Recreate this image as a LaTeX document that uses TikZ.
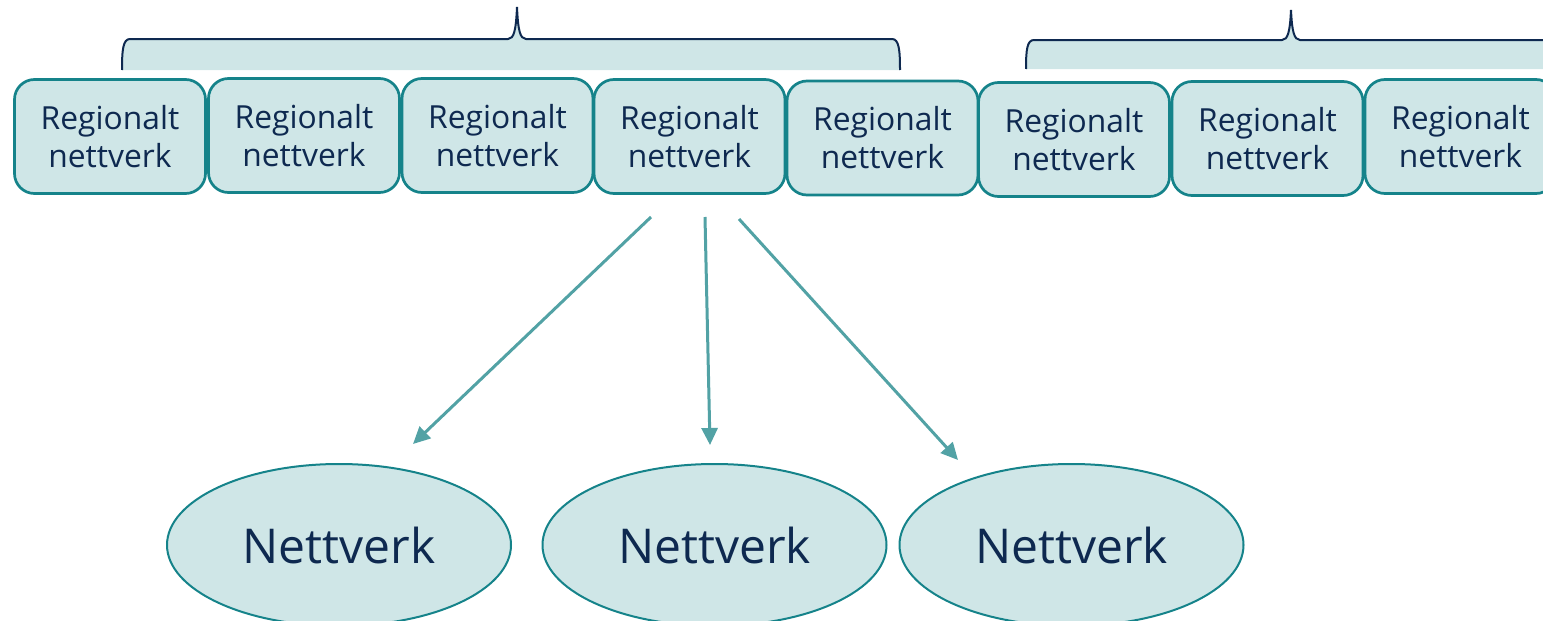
\documentclass[tikz,border=0pt]{standalone}
\usepackage{fontspec}
\setmainfont{Open Sans}
\usetikzlibrary{shapes.geometric,arrows.meta}
\definecolor{fillc}{HTML}{CFE6E7}
\definecolor{edgec}{HTML}{15838A}
\definecolor{txtc}{HTML}{0E2950}
\definecolor{arrc}{HTML}{52A2A5}
\definecolor{bracec}{HTML}{0E2950}
\begin{document}
\begin{tikzpicture}[x=1pt,y=-1pt,
  regbox/.style={draw=edgec, fill=fillc, line width=2.7pt, rounded corners=20pt,
    minimum width=191pt, minimum height=114pt, inner sep=0pt, text=txtc,
    font=\fontsize{31.8}{38}\selectfont, align=center},
  netnode/.style={ellipse, draw=edgec, fill=fillc, line width=2pt,
    minimum width=344pt, minimum height=162pt, inner sep=0pt, text=txtc,
    font=\fontsize{48}{58}\selectfont},
  arr/.style={draw=arrc, line width=3pt, -{Triangle[length=17pt,width=16pt]}},
  bracefill/.style={fill=fillc},
  braceline/.style={draw=bracec, line width=2pt}]
\useasboundingbox (0,0) rectangle (1543,621);
\clip (0,0) rectangle (1543,621);

% braces
\path[bracefill] (122,70) .. controls (122,50) and (123,39) .. (130,39) -- (508,39)
  .. controls (514,39) and (516,30) .. (517,7) .. controls (518,30) and (520,39) .. (526,39)
  -- (892,39) .. controls (899,39) and (900,50) .. (900,70) -- cycle;
\path[braceline] (122,70) .. controls (122,50) and (123,39) .. (130,39) -- (508,39)
  .. controls (514,39) and (516,30) .. (517,7) .. controls (518,30) and (520,39) .. (526,39)
  -- (892,39) .. controls (899,39) and (900,50) .. (900,70);

\path[bracefill] (1026,69) .. controls (1026,50) and (1027,40) .. (1034,40) -- (1282,40)
  .. controls (1288,40) and (1290,31) .. (1291,10) .. controls (1292,31) and (1294,40) .. (1300,40)
  -- (1548,40) .. controls (1555,40) and (1556,50) .. (1556,69) -- cycle;
\path[braceline] (1026,69) .. controls (1026,50) and (1027,40) .. (1034,40) -- (1282,40)
  .. controls (1288,40) and (1290,31) .. (1291,10) .. controls (1292,31) and (1294,40) .. (1300,40)
  -- (1548,40) .. controls (1555,40) and (1556,50) .. (1556,69);

% regional boxes
\node[regbox] (r1) at (110,136.5) {Regionalt\\nettverk};
\node[regbox] (r2) at (304,135.5) {Regionalt\\nettverk};
\node[regbox] (r3) at (497.5,135.5) {Regionalt\\nettverk};
\node[regbox] (r4) at (689.5,136.5) {Regionalt\\nettverk};
\node[regbox] (r5) at (882.5,138) {Regionalt\\nettverk};
\node[regbox] (r6) at (1074,139.5) {Regionalt\\nettverk};
\node[regbox] (r7) at (1267.5,138.5) {Regionalt\\nettverk};
\node[regbox] (r8) at (1460.5,136.5) {Regionalt\\nettverk};

% networks
\node[netnode] (n1) at (339,545) {Nettverk};
\node[netnode] (n2) at (714.5,545) {Nettverk};
\node[netnode] (n3) at (1071.5,545) {Nettverk};

% arrows
\coordinate (s1) at (651,217);
\coordinate (s2) at (705,217);
\coordinate (s3) at (739,219);
\coordinate (e1) at (413,444);
\coordinate (e2) at (710,445);
\coordinate (e3) at (958,460);
\draw[arr] (s1) -- (e1);
\draw[arr] (s2) -- (e2);
\draw[arr] (s3) -- (e3);
\end{tikzpicture}
\end{document}
